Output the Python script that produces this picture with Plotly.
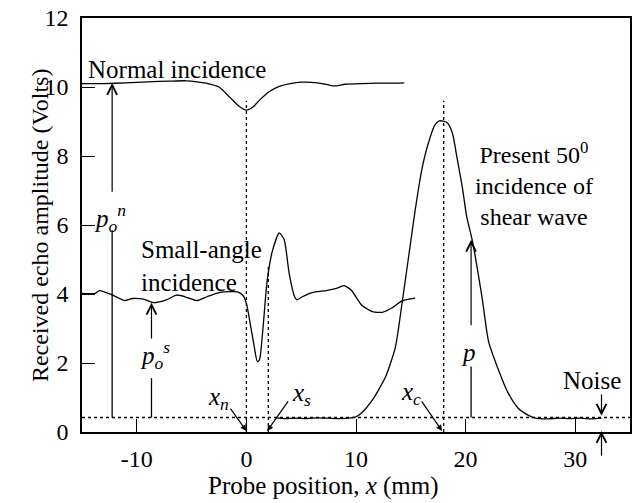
import plotly.graph_objects as go

# ---------------- data ----------------
normal_x = [-15, -13, -11, -9, -7, -5.5, -4.5, -3.5, -2.5, -1.5, -0.7, 0, 0.6, 1.2, 2.1, 3.0, 4.0,
            5.0, 6.5, 7.5, 8.0, 9.0, 10.5, 12.0, 13.5, 14.4]
normal_y = [10.1, 10.1, 10.12, 10.15, 10.17, 10.18, 10.15, 10.1, 10.0, 9.7, 9.45, 9.33, 9.42, 9.62, 9.87,
            10.02, 10.1, 10.14, 10.12, 10.06, 10.03, 10.08, 10.1, 10.11, 10.11, 10.12]

small_x = [-15, -13.8, -13.4, -12.2, -11.1, -10.4, -9.4, -8.5, -7.3, -6.4, -5.6, -4.5, -3.6, -2.5,
           -1.3, -0.8, -0.3, 0, 0.4, 0.7, 1.0, 1.2, 1.5, 1.9, 2.4, 3.0, 3.45, 3.9, 4.4, 4.6, 5.1,
           6.0, 7.3, 8.2, 8.9, 9.6, 10.5, 11.5, 12.4, 13.3, 14.2, 15.4]
small_y = [4.02, 4.02, 4.1, 3.97, 3.81, 3.87, 3.85, 3.75, 3.83, 3.97, 3.92, 3.81, 3.92, 4.04,
           4.07, 4.06, 3.95, 3.73, 3.05, 2.5, 2.04, 2.1, 2.96, 4.4, 5.28, 5.77, 5.57, 4.6, 3.92, 3.83, 3.92,
           4.04, 4.1, 4.16, 4.24, 4.1, 3.68, 3.49, 3.47, 3.6, 3.8, 3.88]

shear_x = [2.7, 3.5, 4.5, 5.5, 6.5, 7.5, 8.5, 9.5, 10.0, 10.5, 11.5, 12.7, 13.6, 14.2, 14.8, 15.4,
           16.0, 16.6, 17.2, 17.6, 18.3, 18.8, 19.2, 19.7, 20.1, 20.6, 21.5, 22.1, 23.0, 23.9,
           24.8, 25.7, 26.3, 27.5, 28.5, 29.5, 30.5, 31.5, 32.4]
shear_y = [0.41, 0.39, 0.4, 0.39, 0.41, 0.4, 0.39, 0.41, 0.44, 0.55, 0.93, 1.6, 2.47, 3.73, 5.08, 6.43,
           7.6, 8.37, 8.9, 9.02, 8.97, 8.66, 7.98, 7.1, 6.24, 5.57, 3.9, 2.62, 1.8, 1.12,
           0.69, 0.49, 0.41, 0.38, 0.4, 0.39, 0.4, 0.38, 0.4]

x_ticks = [-10, 0, 10, 20, 30]
y_ticks = [0, 2, 4, 6, 8, 10, 12]

noise_level = 0.42
x_n, x_s, x_c = 0, 2, 18

FONT = "Liberation Serif, Times New Roman, serif"
FS = 25
TICK_FS = 24

fig = go.Figure()
for xs, ys in [(normal_x, normal_y), (small_x, small_y), (shear_x, shear_y)]:
    fig.add_trace(go.Scatter(x=xs, y=ys, mode="lines", line=dict(color="black", width=1.3, shape="spline", smoothing=0.6),
                             showlegend=False, hoverinfo="skip"))

shapes = []
dot = dict(color="black", width=1.3, dash="dot")
shapes.append(dict(type="line", x0=-15, x1=35, y0=noise_level, y1=noise_level, xref="x", yref="y", line=dot))
shapes.append(dict(type="line", x0=x_n, x1=x_n, y0=0, y1=9.6, xref="x", yref="y", line=dot))
shapes.append(dict(type="line", x0=x_s, x1=x_s, y0=0, y1=4.8, xref="x", yref="y", line=dot))
shapes.append(dict(type="line", x0=x_c, x1=x_c, y0=0, y1=9.6, xref="x", yref="y", line=dot))
solid = dict(color="black", width=1.3)
# lower segments of the measurement arrows
for xx, top in [(-12.25, 5.85), (-8.66, 1.56), (20.5, 1.9)]:
    shapes.append(dict(type="line", x0=xx, x1=xx, y0=noise_level, y1=top, xref="x", yref="y", line=solid))

ann = []
def arrow(x, y, ax, ay, head=5, size=1.6):
    ann.append(dict(x=x, y=y, ax=ax, ay=ay, xref="x", yref="y", axref="x", ayref="y", text="",
                    showarrow=True, arrowhead=head, arrowsize=size, arrowwidth=1.2, arrowcolor="black"))

arrow(-12.25, 10.12, -12.25, 6.92)
arrow(-8.66, 3.75, -8.66, 2.67)
arrow(20.5, 5.57, 20.5, 3.05)
arrow(32.4, 0.47, 32.4, 1.13)
arrow(32.4, 0.03, 32.4, -0.73)
arrow(0, 0.03, -1.55, 0.72, head=2, size=1.0)
arrow(1.9, 0.03, 3.9, 0.93, head=2, size=1.0)
arrow(17.85, 0.03, 15.9, 0.93, head=2, size=1.0)

def label(x, y, t, xanchor="center", align="center", size=FS):
    ann.append(dict(x=x, y=y, xref="x", yref="y", text=t, showarrow=False, xanchor=xanchor, yanchor="middle",
                    align=align, font=dict(family=FONT, size=size, color="black")))

label(-14.6, 10.52, "Normal incidence", xanchor="left")
label(-9.8, 4.82, "Small-angle<br>incidence", xanchor="left", align="left")
label(26.2, 7.2, "Present 50<sup>0</sup><br>incidence of<br>shear wave", size=24)
label(31.5, 1.48, "Noise")
label(-12.45, 6.2, "<i>p</i><sub><i>o</i></sub><sup><i>n</i></sup>")
label(-8.35, 2.23, "<i>p</i><sub><i>o</i></sub><sup><i>s</i></sup>")
label(20.3, 2.3, "<i>p</i>")
label(-2.55, 0.98, "<i>x</i><sub><i>n</i></sub>")
label(5.0, 1.1, "<i>x</i><sub><i>s</i></sub>")
label(15.0, 1.13, "<i>x</i><sub><i>c</i></sub>")

# axis titles
ann.append(dict(x=7.0, y=-0.13, xref="x", yref="paper", text="Probe position, <i>x</i> (mm)", showarrow=False,
                xanchor="center", yanchor="middle", font=dict(family=FONT, size=FS, color="black")))
ann.append(dict(x=-0.0766, y=5.97, xref="paper", yref="y", text="Received echo amplitude (Volts)", showarrow=False,
                textangle=-90, xanchor="center", yanchor="middle", font=dict(family=FONT, size=24, color="black")))

axis_common = dict(showgrid=False, zeroline=False, showline=True, linecolor="black", linewidth=1.5, mirror=True,
                   ticks="inside", tickcolor="black", tickwidth=1.2, ticklen=13, automargin=False,
                   tickfont=dict(family=FONT, size=TICK_FS, color="black"))

fig.update_layout(
    width=633, height=503,
    margin=dict(l=82, r=3, t=18, b=71),
    plot_bgcolor="white", paper_bgcolor="white",
    xaxis=dict(range=[-15, 35], tickvals=x_ticks, ticktext=[str(v) for v in x_ticks], ticklabelstandoff=4, **axis_common),
    yaxis=dict(range=[0, 12], tickvals=y_ticks, ticktext=[str(v) for v in y_ticks], ticklabelstandoff=7, **axis_common),
    shapes=shapes, annotations=ann, showlegend=False,
)

fig.write_html("out.html", config={"displayModeBar": False},
               post_script="document.body.style.margin='0px';document.body.style.padding='0px';")
